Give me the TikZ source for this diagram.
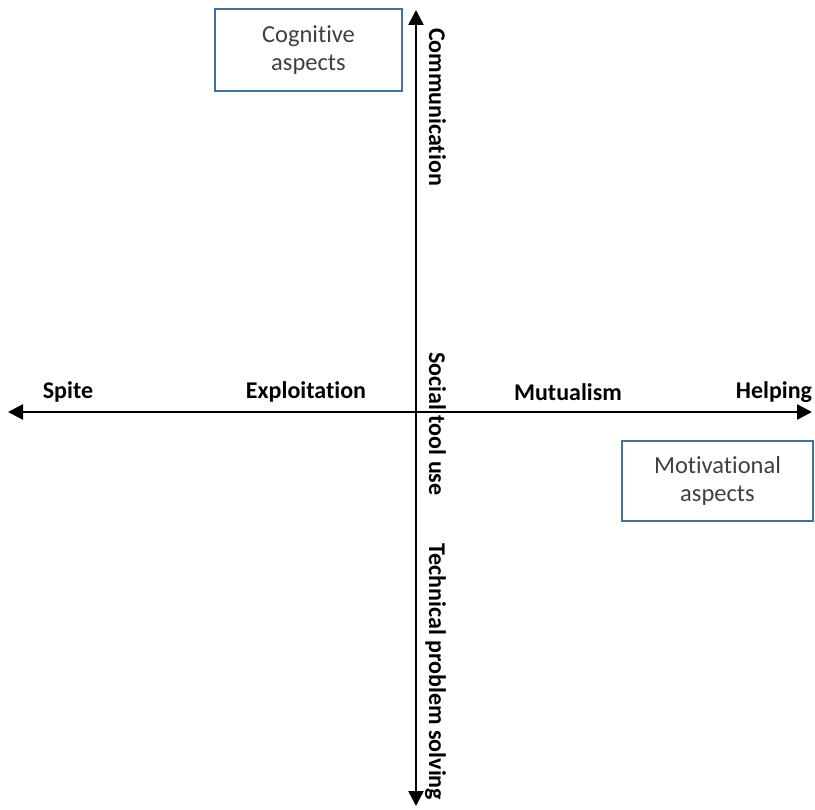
\documentclass[tikz,border=0pt]{standalone}
\usepackage{fontspec}
\setmainfont{Carlito}[Ligatures=NoCommon]
\usetikzlibrary{arrows.meta}
\definecolor{boxblue}{HTML}{41719C}
\definecolor{txtgray}{HTML}{404040}
\tikzset{
  axis/.style={line width=2.6pt,-{Triangle[length=15pt,width=15pt]}},
  axislabel/.style={font=\fontsize{24}{28}\selectfont\bfseries,inner sep=0pt},
  vlabel/.style={axislabel,rotate=-90,anchor=base},
  aspectbox/.style={draw=boxblue,line width=1.6pt,fill=white,minimum width=187pt,minimum height=82pt,
    align=center,font=\fontsize{24.5}{28}\selectfont,text=txtgray,inner sep=0pt}
}
\begin{document}
\begin{tikzpicture}[x=1pt,y=-1pt]
\useasboundingbox (0,0) rectangle (815,810);
\coordinate (c) at (416,412);
\coordinate (top) at (416,10);
\coordinate (bot) at (416,806);
\coordinate (left) at (8,412);
\coordinate (right) at (812,412);
\draw[axis] (c) -- (top);
\draw[axis] (c) -- (bot);
\draw[axis] (c) -- (left);
\draw[axis] (c) -- (right);
\node[axislabel] (spite) at (68,392) {Spite};
\node[axislabel] (expl) at (306,392) {Exploitation};
\node[axislabel] (mut) at (568,392) {Mutualism};
\node[axislabel] (help) at (774,392) {Helping};
\node[vlabel] (comm) at (429,107) {Communication};
\node[vlabel] (stu) at (429,424) {Social tool use};
\node[vlabel] (tech) at (429,672) {Technical problem solving};
\node[aspectbox] (cog) at (308.5,50) {Cognitive\\aspects};
\node[aspectbox,minimum width=191pt,minimum height=80pt] (mot) at (717.5,481) {Motivational\\aspects};
\end{tikzpicture}
\end{document}
